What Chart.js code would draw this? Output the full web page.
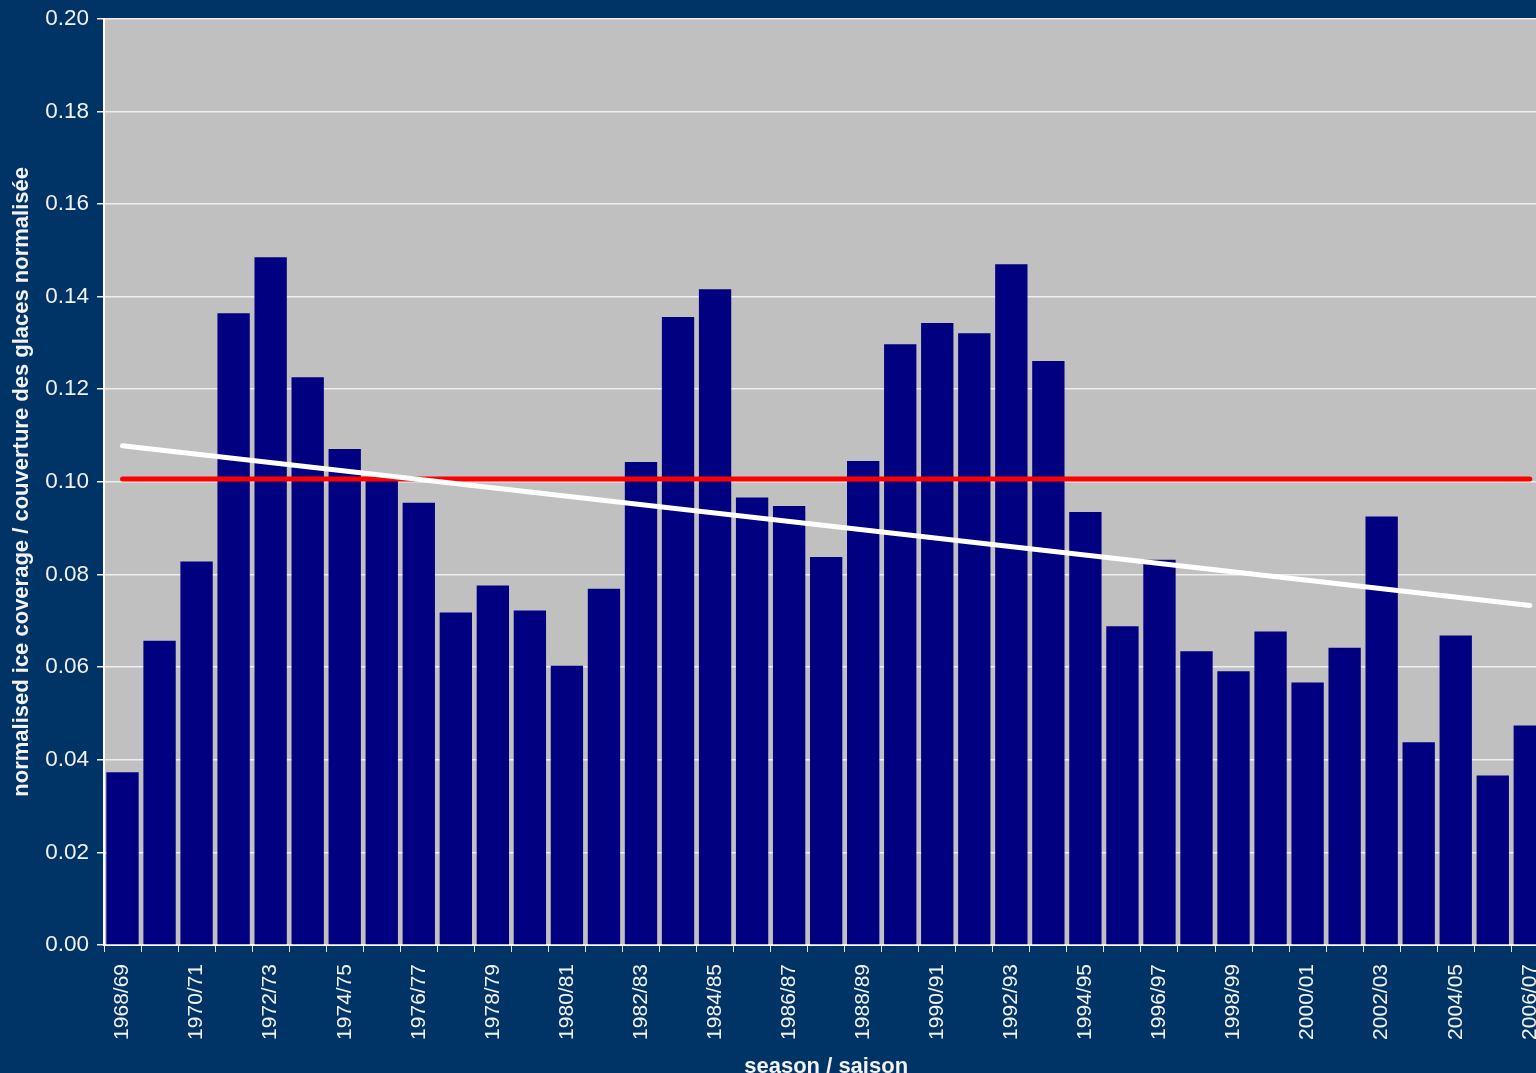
<!DOCTYPE html>
<html>
<head>
<meta charset="utf-8">
<script src="https://cdn.jsdelivr.net/npm/chart.js@4"></script>
<style>
  html, body { margin: 0; padding: 0; background: #003366; overflow: hidden; }
  canvas { display: block; }
</style>
</head>
<body>
<canvas id="iceChart" width="1567" height="1080"></canvas>
<script>
// seasons 1968/69 .. 2006/07
const seasons = ['1968/69', '1969/70', '1970/71', '1971/72', '1972/73', '1973/74', '1974/75', '1975/76',
    '1976/77', '1977/78', '1978/79', '1979/80', '1980/81', '1981/82', '1982/83', '1983/84', '1984/85',
    '1985/86', '1986/87', '1987/88', '1988/89', '1989/90', '1990/91', '1991/92', '1992/93', '1993/94',
    '1994/95', '1995/96', '1996/97', '1997/98', '1998/99', '1999/00', '2000/01', '2001/02', '2002/03',
    '2003/04', '2004/05', '2005/06', '2006/07'];

const coverage = [0.0373, 0.0657, 0.0828, 0.1364, 0.1485, 0.1226, 0.1071, 0.1005,
    0.0955, 0.0718, 0.0776, 0.0722, 0.0603, 0.0769, 0.1043, 0.1356, 0.1416,
    0.0966, 0.0948, 0.0838, 0.1045, 0.1297, 0.1343, 0.1321, 0.1470, 0.1261,
    0.0935, 0.0688, 0.0832, 0.0634, 0.0591, 0.0677, 0.0567, 0.0642, 0.0925,
    0.0438, 0.0668, 0.0366, 0.0474];

// average line and linear trend (read at first and last season)
const meanLine = [0.1006, 0.1006];
const trendLine = [0.1078, 0.0733];

const yTicks = [0, 0.02, 0.04, 0.06, 0.08, 0.10, 0.12, 0.14, 0.16, 0.18, 0.20];

function endpoints(pair) {
    return seasons.map((s, i) => i === 0 ? pair[0] : (i === seasons.length - 1 ? pair[1] : null));
}

const txt = '#f2f2f2';
const fontFamily = '"Liberation Sans", Arial, sans-serif';

// grey plot area
const plotBg = {
    id: 'plotBg',
    beforeDraw(chart) {
        const { ctx, chartArea: a } = chart;
        ctx.save();
        ctx.fillStyle = '#c0c0c0';
        ctx.fillRect(a.left, a.top, a.right - a.left, a.bottom - a.top);
        ctx.restore();
    }
};

const ctx = document.getElementById('iceChart').getContext('2d');
new Chart(ctx, {
    type: 'bar',
    data: {
        labels: seasons,
        datasets: [{
            type: 'line',
            data: endpoints(trendLine),
            borderColor: '#ffffff',
            borderWidth: 5,
            borderCapStyle: 'round',
            pointRadius: 0,
            spanGaps: true,
            order: 1
        }, {
            type: 'line',
            data: endpoints(meanLine),
            borderColor: '#ff0000',
            borderWidth: 5,
            borderCapStyle: 'round',
            pointRadius: 0,
            spanGaps: true,
            order: 2
        }, {
            data: coverage,
            backgroundColor: '#000080',
            barPercentage: 0.873,
            categoryPercentage: 1.0,
            order: 3
        }]
    },
    options: {
        responsive: false,
        animation: false,
        plugins: {
            legend: { display: false },
            tooltip: { enabled: false }
        },
        layout: {
            padding: { top: 12, left: 0, right: 0, bottom: 0 }
        },
        scales: {
            x: {
                offset: true,
                grid: {
                    offset: true,
                    drawOnChartArea: false,
                    drawTicks: true,
                    tickLength: 7,
                    color: '#e8e8e8'
                },
                border: { color: '#ffffff', width: 2 },
                ticks: {
                    autoSkip: false,
                    minRotation: 90,
                    maxRotation: 90,
                    padding: 12,
                    color: txt,
                    font: { family: fontFamily, size: 21 },
                    callback: function(value, index) {
                        return index % 2 === 0 ? seasons[index] : '';
                    }
                },
                title: {
                    display: true,
                    text: 'season / saison',
                    color: txt,
                    font: { family: fontFamily, size: 22, weight: 'bold' },
                    padding: { top: 0, bottom: 0 }
                },
                afterFit: function(scale) {
                    scale.height = 135;
                }
            },
            y: {
                min: 0,
                max: 0.2,
                afterBuildTicks: function(scale) {
                    scale.ticks = yTicks.map(v => ({ value: v }));
                },
                grid: {
                    color: '#eeeeee',
                    lineWidth: 1.5,
                    tickLength: 7
                },
                border: { color: '#ffffff', width: 2 },
                ticks: {
                    padding: 8,
                    color: txt,
                    font: { family: fontFamily, size: 22.5, lineHeight: 0.95 },
                    callback: function(value) {
                        return value.toFixed(2);
                    }
                },
                title: {
                    display: true,
                    text: 'normalised ice coverage / couverture des glaces normalisée',
                    color: txt,
                    font: { family: fontFamily, size: 22, weight: 'bold' },
                    padding: { top: 9, bottom: 0 }
                },
                afterFit: function(scale) {
                    scale.width = 104;
                }
            }
        }
    },
    plugins: [plotBg]
});
</script>
</body>
</html>
